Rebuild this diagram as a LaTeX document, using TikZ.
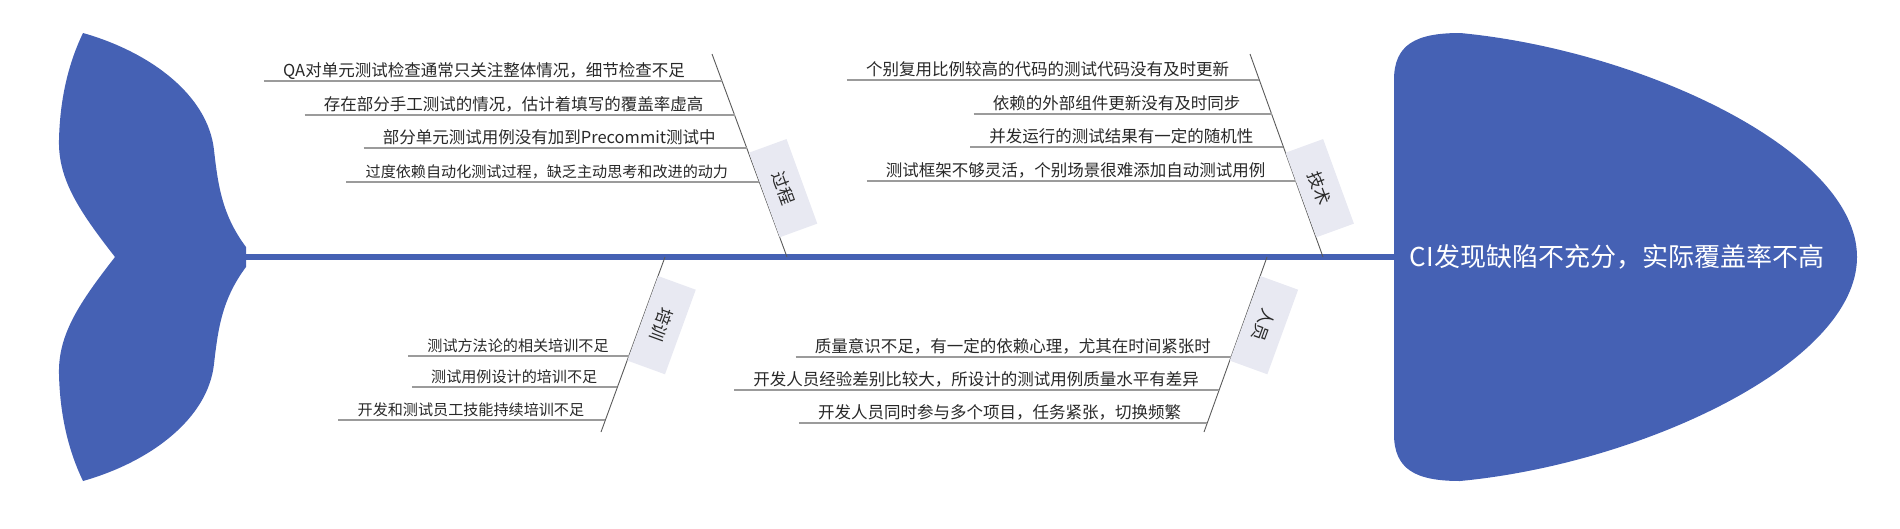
\documentclass[tikz,border=0pt]{standalone}
\usepackage{fontspec}
\setmainfont{Noto Sans CJK SC}
\usetikzlibrary{calc}
\definecolor{fishblue}{RGB}{69,97,180}
\definecolor{tagbg}{RGB}{232,233,242}
\definecolor{twiggray}{RGB}{155,155,155}
\definecolor{bonegray}{RGB}{90,90,90}
\definecolor{inkgray}{RGB}{40,40,40}

\begin{document}
\begin{tikzpicture}[x=1pt,y=-1pt,every node/.style={inner sep=0pt,text=inkgray},
 cause/.style={anchor=base east},
 twig/.style={twiggray,line width=1.5pt},
 bone/.style={bonegray,line width=0.9pt},
 tag/.style={fill=tagbg,anchor=south,minimum width=90pt,minimum height=40pt,font=\fontsize{17}{20}\selectfont},
 spine/.style={fishblue,line width=6pt}]
\useasboundingbox (0,0) rectangle (1900,528);
% tail and head
\fill[fishblue] (83,33) .. controls (150,52) and (208,95) .. (214,150)
 .. controls (218,185) and (222,215) .. (246,247) -- (246,267)
 .. controls (222,299) and (218,329) .. (214,364)
 .. controls (208,419) and (150,462) .. (83,481)
 .. controls (70,454) and (60,419) .. (59,374)
 .. controls (58,334) and (80,302) .. (115,257)
 .. controls (80,212) and (58,180) .. (59,140)
 .. controls (60,95) and (70,60) .. (83,33) -- cycle;
\fill[fishblue] (1394,80) .. controls (1394,45) and (1415,33) .. (1460,33)
 .. controls (1640,50) and (1857,150) .. (1857,257)
 .. controls (1857,364) and (1640,464) .. (1460,481)
 .. controls (1415,481) and (1394,469) .. (1394,434) -- cycle;
\coordinate (tail) at (240,257);
\coordinate (head) at (1400,257);
\draw[spine] (tail) -- (head);
\node[font=\fontsize{26}{30}\selectfont,text=white] (effect) at (1617,257) {CI发现缺陷不充分，实际覆盖率不高};

% upper left: process
\coordinate (gtop) at (712,54); \coordinate (gbot) at (787,257);
\draw[bone] (gtop) -- (gbot);
\foreach \k/\yy/\fs/\gap/\txt in {1/81/16.5/37/{QA对单元测试检查通常只关注整体情况，细节检查不足},
 2/115/16.5/31/{存在部分手工测试的情况，估计着填写的覆盖率虚高},
 3/148/16.5/31/{部分单元测试用例没有加到Precommit测试中},
 4/182/15.1/31/{过度依赖自动化测试过程，缺乏主动思考和改进的动力}}{
 \coordinate (g\k) at ($(gtop)!{(\yy-54)/203}!(gbot)$);
 \node[cause,font=\fontsize{\fs}{20}\selectfont] (gc\k) at ([xshift=-\gap pt,yshift=5pt]g\k) {\txt};
 \draw[twig] ([xshift=-19pt]gc\k.west |- g\k) -- (g\k);}
\node[tag,rotate=-70] (tg) at ($(gtop)!0.695!(gbot)$) {过程};

% upper right: technique
\coordinate (jtop) at (1250,54); \coordinate (jbot) at (1323,257);
\draw[bone] (jtop) -- (jbot);
\foreach \k/\yy/\fs/\gap/\txt in {1/80/16.5/30/{个别复用比例较高的代码的测试代码没有及时更新},
 2/114/16.5/31/{依赖的外部组件更新没有及时同步},
 3/147/16.5/30/{并发运行的测试结果有一定的随机性},
 4/181/16.5/30/{测试框架不够灵活，个别场景很难添加自动测试用例}}{
 \coordinate (j\k) at ($(jtop)!{(\yy-54)/203}!(jbot)$);
 \node[cause,font=\fontsize{\fs}{20}\selectfont] (jc\k) at ([xshift=-\gap pt,yshift=5pt]j\k) {\txt};
 \draw[twig] ([xshift=-19pt]jc\k.west |- j\k) -- (j\k);}
\node[tag,rotate=-70] (tj) at ($(jtop)!0.695!(jbot)$) {技术};

% lower left: training
\coordinate (ptop) at (665,257); \coordinate (pbot) at (601,432);
\draw[bone] (ptop) -- (pbot);
\foreach \k/\yy/\fs/\gap/\txt in {1/356/15.1/20/{测试方法论的相关培训不足},
 2/387/15.1/20/{测试用例设计的培训不足},
 3/420/15.1/21/{开发和测试员工技能持续培训不足}}{
 \coordinate (p\k) at ($(ptop)!{(\yy-257)/175}!(pbot)$);
 \node[cause,font=\fontsize{\fs}{20}\selectfont] (pc\k) at ([xshift=-\gap pt,yshift=5pt]p\k) {\txt};
 \draw[twig] ([xshift=-19pt]pc\k.west |- p\k) -- (p\k);}
\node[tag,rotate=-110] (tp) at ($(ptop)!0.35!(pbot)$) {培训};

% lower right: people
\coordinate (rtop) at (1267,257); \coordinate (rbot) at (1204,432);
\draw[bone] (rtop) -- (rbot);
\foreach \k/\yy/\fs/\gap/\txt in {1/357/16.5/20/{质量意识不足，有一定的依赖心理，尤其在时间紧张时},
 2/390/16.5/20/{开发人员经验差别比较大，所设计的测试用例质量水平有差异},
 3/423/16.5/26/{开发人员同时参与多个项目，任务紧张，切换频繁}}{
 \coordinate (r\k) at ($(rtop)!{(\yy-257)/175}!(rbot)$);
 \node[cause,font=\fontsize{\fs}{20}\selectfont] (rc\k) at ([xshift=-\gap pt,yshift=5pt]r\k) {\txt};
 \draw[twig] ([xshift=-19pt]rc\k.west |- r\k) -- (r\k);}
\node[tag,rotate=-110] (tr) at ($(rtop)!0.35!(rbot)$) {人员};
\end{tikzpicture}
\end{document}
